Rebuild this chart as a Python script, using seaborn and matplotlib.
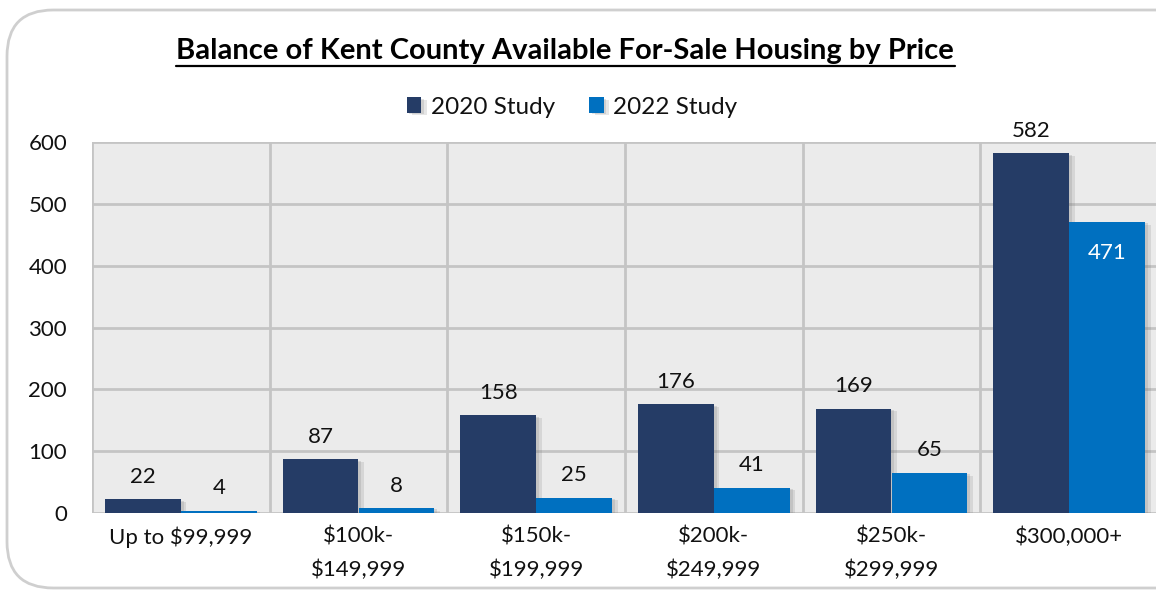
import matplotlib
matplotlib.use("Agg")
import matplotlib.pyplot as plt
import matplotlib.patheffects as pe
from matplotlib.patches import FancyBboxPatch
import seaborn as sns
import pandas as pd

categories = ["Up to $99,999", "$100k-\n$149,999", "$150k-\n$199,999",
              "$200k-\n$249,999", "$250k-\n$299,999", "$300,000+"]
study_2020 = [22, 87, 158, 176, 169, 582]
study_2022 = [4, 8, 25, 41, 65, 471]
series = ["2020 Study", "2022 Study"]
colors = ["#253C66", "#0070C0"]
title = "Balance of Kent County Available For-Sale Housing by Price"

df = pd.DataFrame({
    "cat": categories * 2,
    "val": study_2020 + study_2022,
    "series": [series[0]] * len(categories) + [series[1]] * len(categories),
})

sns.set_theme(style="white")
plt.rcParams["font.family"] = ["Lato", "DejaVu Sans"]

W, H = 1156, 595
fig = plt.figure(figsize=(W / 100, H / 100), dpi=100)
fig.patch.set_facecolor("white")

# rounded frame
frame = FancyBboxPatch((7 / W, 7 / H), 1.2, (585 - 7) / H,
                       boxstyle="round,pad=0,rounding_size=0.04",
                       transform=fig.transFigure, facecolor="white",
                       edgecolor="#CFCFCF", linewidth=2, mutation_aspect=W / H,
                       zorder=-5)
fig.patches.append(frame)

ax_left, ax_right = 92 / W, 1158 / W
ax_bottom, ax_top = 1 - 513 / H, 1 - 142 / H
ax = fig.add_axes([ax_left, ax_bottom, ax_right - ax_left, ax_top - ax_bottom])
ax.set_facecolor("#EBEBEB")

sns.barplot(data=df, x="cat", y="val", hue="series", hue_order=series,
            palette=colors, width=0.855, gap=0, ax=ax, legend=True,
            saturation=1, edgecolor="none", linewidth=0, zorder=3)

for p in ax.patches:
    p.set_path_effects([
        pe.SimplePatchShadow(offset=(4, -2), shadow_rgbFace="#777777", alpha=0.18),
        pe.SimplePatchShadow(offset=(2, -1), shadow_rgbFace="#777777", alpha=0.2),
        pe.Normal()])

ax.set_ylim(0, 600)
ax.set_xlim(-0.5, 5.5)
ax.set_yticks([0, 100, 200, 300, 400, 500, 600])
ax.set_xticks(range(len(categories)))
ax.set_xticks([i - 0.5 for i in range(len(categories) + 1)], minor=True)
ax.grid(True, which="major", axis="y", color="#C4C4C4", linewidth=2, zorder=0)
ax.grid(True, which="minor", axis="x", color="#C4C4C4", linewidth=2, zorder=0)
ax.grid(False, which="major", axis="x")
ax.set_axisbelow(True)
for s in ax.spines.values():
    s.set_visible(False)
ax.tick_params(axis="both", which="both", length=0)
ax.tick_params(axis="y", labelsize=16, pad=18, labelcolor="#111111")
ax.tick_params(axis="x", labelsize=16, pad=10, labelcolor="#111111")
ax.set_xticklabels(categories, linespacing=1.75)
ax.set_xlabel("")
ax.set_ylabel("")

# data labels
for ci, cont in enumerate(ax.containers):
    for bar, v in zip(cont, [study_2020, study_2022][ci]):
        x = bar.get_x() + bar.get_width() / 2
        h = bar.get_height()
        if v > 400 and ci == 1:
            ax.annotate(str(v), (x, h), xytext=(0, -30), textcoords="offset points",
                        ha="center", va="bottom", fontsize=16, color="white", zorder=5)
        else:
            ax.annotate(str(v), (x, h), xytext=(0, 9), textcoords="offset points",
                        ha="center", va="bottom", fontsize=16, color="#111111", zorder=5)

leg = ax.legend(loc="center", bbox_to_anchor=(572 / W, 1 - 107 / H),
                bbox_transform=fig.transFigure, ncol=2, frameon=False,
                fontsize=17.5, handlelength=0.6, handleheight=0.6,
                handletextpad=0.4, columnspacing=1.4, labelcolor="#111111")

fig.text(565 / W, 1 - 51 / H, title, ha="center", va="center",
         fontsize=21, fontweight="bold", color="#000000")
# underline
fig.add_artist(plt.Line2D([176 / W, 955 / W], [1 - 66 / H, 1 - 66 / H],
                          color="black", linewidth=1.6, transform=fig.transFigure))

fig.savefig("out.png", dpi=100, facecolor="white")
